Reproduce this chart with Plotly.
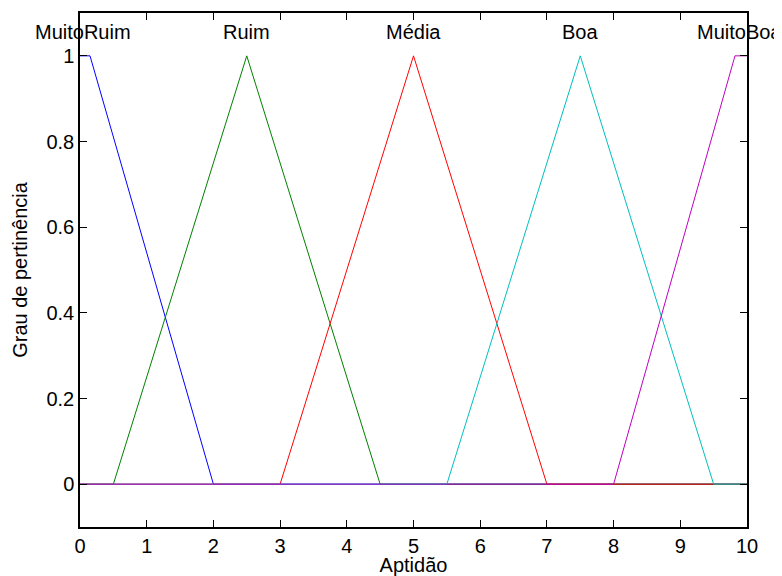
import plotly.graph_objects as go

# Membership function vertices (x, y) over universe 0..10
names = ["MuitoRuim", "Ruim", "Média", "Boa", "MuitoBoa"]
colors = ["#0000ff", "#008000", "#ff0000", "#00bfbf", "#bf00bf"]

muitoruim_x = [0, 0.15, 2, 10]
muitoruim_y = [1, 1, 0, 0]
ruim_x = [0, 0.5, 2.5, 4.5, 10]
ruim_y = [0, 0, 1, 0, 0]
media_x = [0, 3, 5, 7, 10]
media_y = [0, 0, 1, 0, 0]
boa_x = [0, 5.5, 7.5, 9.5, 10]
boa_y = [0, 0, 1, 0, 0]
muitoboa_x = [0, 8, 9.82, 10]
muitoboa_y = [0, 0, 1, 1]

label_x = [0.05, 2.5, 5, 7.5, 9.88]
label_y = [1.055, 1.055, 1.055, 1.055, 1.055]

xs = [muitoruim_x, ruim_x, media_x, boa_x, muitoboa_x]
ys = [muitoruim_y, ruim_y, media_y, boa_y, muitoboa_y]

fig = go.Figure()
for n, c, x, y in zip(names, colors, xs, ys):
    fig.add_trace(go.Scatter(x=x, y=y, mode="lines", line=dict(color=c, width=1),
                             name=n, showlegend=False, hoverinfo="skip"))

for n, lx, ly in zip(names, label_x, label_y):
    fig.add_annotation(x=lx, y=ly, xref="x", yref="y", text=n, showarrow=False,
                       xanchor="center", yanchor="middle",
                       font=dict(size=20, color="black"))

axis_common = dict(showline=True, linecolor="black", linewidth=1.5, mirror="ticks",
                   ticks="inside", ticklen=7, tickcolor="black", showgrid=False,
                   zeroline=False, automargin=False,
                   tickfont=dict(size=20, color="black"))

fig.update_layout(
    width=774, height=568,
    margin=dict(l=72, r=35, t=5, b=49),
    paper_bgcolor="white", plot_bgcolor="white",
    font=dict(family="Arial, Liberation Sans, sans-serif", color="black"),
    xaxis=dict(range=[0, 10], tickvals=list(range(0, 11)),
               title=dict(text="Aptidão", font=dict(size=20), standoff=4),
               **axis_common),
    yaxis=dict(range=[-0.1, 1.1], tickvals=[0, 0.2, 0.4, 0.6, 0.8, 1],
               ticktext=["0", "0.2", "0.4", "0.6", "0.8", "1"],
               title=dict(text="Grau de pertinência", font=dict(size=20), standoff=13),
               **axis_common),
)

fig.write_html("out.html")
